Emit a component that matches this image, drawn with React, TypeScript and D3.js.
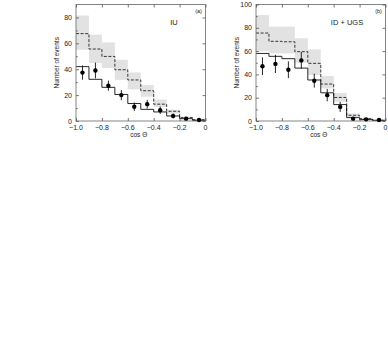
import * as d3 from "d3";
import { useEffect, useRef } from "react";

// bin edges in cos(theta)
const binEdges = [-1.0, -0.9, -0.8, -0.7, -0.6, -0.5, -0.4, -0.3, -0.2, -0.1, 0.0];
const xTicks = [-1.0, -0.8, -0.6, -0.4, -0.2, 0];

// panel (a) IU
const aData = [37.4, 39, 27.3, 20, 11, 13, 8.3, 3.9, 1.8, 0.8];
const aErr = [5.5, 6.1, 3.9, 3.9, 3.3, 3.3, 2.9, 1.8, 1.3, 0.9];
const aSolid = [42, 32.2, 26, 20.5, 13.5, 9, 7, 3.9, 1.8, 0.5];
const aDashed = [67.5, 55.6, 49.9, 39.6, 31.7, 23.4, 13, 7.5, 2.6, 1];
const aBandHi = [81.5, 66.7, 60.7, 47.3, 37.5, 27.8, 16.6, 8.8, 3.5, 1.5];
const aBandLo = [55, 44.7, 40.9, 31.8, 24.4, 18.7, 10.9, 5.7, 1.8, 0.5];
const aYTicks = [0, 20, 40, 60, 80];

// panel (b) ID + UGS
const bData = [47, 49, 44, 52, 34.6, 22.2, 12.1, 2, 1.4, 0.9];
const bErr = [7.6, 7.8, 7.2, 7.2, 6, 5.3, 4.3, 1.5, 1.2, 1];
const bSolid = [58, 55.5, 53.5, 45.4, 35.2, 24.2, 14.1, 2.9, 1.2, 0.6];
const bDashed = [75.5, 68.4, 68, 59.5, 49.5, 31.7, 20.2, 4.9, 2, 0.6];
const bBandHi = [91, 81, 81, 71, 61.5, 38.6, 24, 6.5, 2.8, 1];
const bBandLo = [60, 58, 58, 50, 39.5, 28, 16.5, 3.5, 1.2, 0.3];
const bYTicks = [0, 20, 40, 60, 80, 100];

const panels = [
  { left: 76, right: 205.5, yMax: 90, yTicks: aYTicks, data: aData, err: aErr, solid: aSolid, dashed: aDashed, hi: aBandHi, lo: aBandLo, tag: "(a)", name: "IU", nameX: 174 },
  { left: 256, right: 385.5, yMax: 100, yTicks: bYTicks, data: bData, err: bErr, solid: bSolid, dashed: bDashed, hi: bBandHi, lo: bBandLo, tag: "(b)", name: "ID + UGS", nameX: 347 },
];

const top = 4.5;
const bottom = 121;
const font = "'Liberation Sans', Arial, sans-serif";
const textColor = "#222";

const App = () => {
  const chartRef = useRef(null);

  useEffect(() => {
    const svg = d3.select(chartRef.current);
    svg.selectAll("*").remove();

    panels.forEach((p) => {
      const x = d3.scaleLinear().domain([-1, 0]).range([p.left, p.right]);
      const y = d3.scaleLinear().domain([0, p.yMax]).range([bottom, top]);
      const g = svg.append("g");

      // shaded systematic band
      g.selectAll(".band")
        .data(p.hi)
        .enter()
        .append("rect")
        .attr("x", (d, i) => x(binEdges[i]))
        .attr("width", (d, i) => x(binEdges[i + 1]) - x(binEdges[i]))
        .attr("y", (d) => y(d))
        .attr("height", (d, i) => y(p.lo[i]) - y(d))
        .style("fill", "#e2e2e2");

      const step = d3
        .line<number>()
        .x((d, i) => x(binEdges[Math.min(i, 10)]))
        .y((d) => y(d))
        .curve(d3.curveStepAfter);

      const withEnd = (vals: number[]) => [...vals, vals[vals.length - 1]];

      g.append("path")
        .attr("d", step(withEnd(p.dashed)))
        .style("fill", "none")
        .style("stroke", "#222")
        .style("stroke-width", 0.9)
        .style("stroke-dasharray", "3,1.6");

      g.append("path")
        .attr("d", step(withEnd(p.solid)))
        .style("fill", "none")
        .style("stroke", "#111")
        .style("stroke-width", 0.9);

      // frame
      g.append("rect")
        .attr("x", p.left)
        .attr("y", top)
        .attr("width", p.right - p.left)
        .attr("height", bottom - top)
        .style("fill", "none")
        .style("stroke", "#666")
        .style("stroke-width", 0.8);

      // ticks (inward, mirrored)
      const bottomAxis = d3.axisBottom(x).tickValues(xTicks).tickSize(-3).tickFormat(() => "");
      g.append("g").attr("transform", `translate(0,${bottom})`).call(bottomAxis);
      const topAxis = d3.axisTop(x).tickValues(xTicks).tickSize(-3).tickFormat(() => "");
      g.append("g").attr("transform", `translate(0,${top})`).call(topAxis);
      const leftAxis = d3.axisLeft(y).tickValues(p.yTicks).tickSize(-3).tickFormat(() => "");
      g.append("g").attr("transform", `translate(${p.left},0)`).call(leftAxis);
      const rightAxis = d3.axisRight(y).tickValues(p.yTicks).tickSize(-3).tickFormat(() => "");
      g.append("g").attr("transform", `translate(${p.right},0)`).call(rightAxis);
      const minor = d3.range(10, p.yMax, 20);
      const leftMinor = d3.axisLeft(y).tickValues(minor).tickSize(-1.8).tickFormat(() => "");
      g.append("g").attr("transform", `translate(${p.left},0)`).call(leftMinor);
      g.selectAll(".domain").remove();
      g.selectAll(".tick line").style("stroke", "#555").style("stroke-width", 0.8);

      // tick labels
      g.selectAll(".xlab")
        .data(xTicks)
        .enter()
        .append("text")
        .attr("x", (d) => x(d))
        .attr("y", 129.5)
        .attr("text-anchor", "middle")
        .style("font-family", font)
        .style("font-size", "7px")
        .style("fill", textColor)
        .text((d) => (d === 0 ? "0" : d3.format(".1f")(d)));

      g.selectAll(".ylab")
        .data(p.yTicks)
        .enter()
        .append("text")
        .attr("x", p.left - 4)
        .attr("y", (d) => y(d) + 2.5)
        .attr("text-anchor", "end")
        .style("font-family", font)
        .style("font-size", "7px")
        .style("fill", textColor)
        .text((d) => d);

      // axis titles
      g.append("text")
        .attr("transform", `translate(${p.left - 17},${(top + bottom) / 2}) rotate(-90)`)
        .attr("text-anchor", "middle")
        .style("font-family", font)
        .style("font-size", "6.5px")
        .style("fill", textColor)
        .text("Number of events");

      g.append("text")
        .attr("x", (p.left + p.right) / 2 - 2)
        .attr("y", 137)
        .attr("text-anchor", "middle")
        .style("font-family", font)
        .style("font-size", "6.5px")
        .style("fill", textColor)
        .text("cos \u0398");

      g.append("text")
        .attr("x", p.right - 7)
        .attr("y", 13)
        .attr("text-anchor", "middle")
        .style("font-family", font)
        .style("font-size", "5.5px")
        .style("fill", textColor)
        .text(p.tag);

      g.append("text")
        .attr("x", p.nameX)
        .attr("y", 25)
        .attr("text-anchor", "middle")
        .style("font-family", font)
        .style("font-size", "7.5px")
        .style("fill", textColor)
        .text(p.name);

      // data points with error bars
      const centers = p.data.map((d, i) => (binEdges[i] + binEdges[i + 1]) / 2);
      g.selectAll(".err")
        .data(p.data)
        .enter()
        .append("line")
        .attr("x1", (d, i) => x(centers[i]))
        .attr("x2", (d, i) => x(centers[i]))
        .attr("y1", (d, i) => y(d + p.err[i]))
        .attr("y2", (d, i) => y(Math.max(0, d - p.err[i])))
        .style("stroke", "#111")
        .style("stroke-width", 0.9);

      g.selectAll(".pt")
        .data(p.data)
        .enter()
        .append("circle")
        .attr("cx", (d, i) => x(centers[i]))
        .attr("cy", (d) => y(d))
        .attr("r", 2.2)
        .style("fill", "#000");
    });
  }, []);

  return (
    <svg
      ref={chartRef}
      width={388}
      height={354}
      style={{ position: "absolute", left: 0, top: 0, background: "#fff" }}
    ></svg>
  );
};

export default App;
